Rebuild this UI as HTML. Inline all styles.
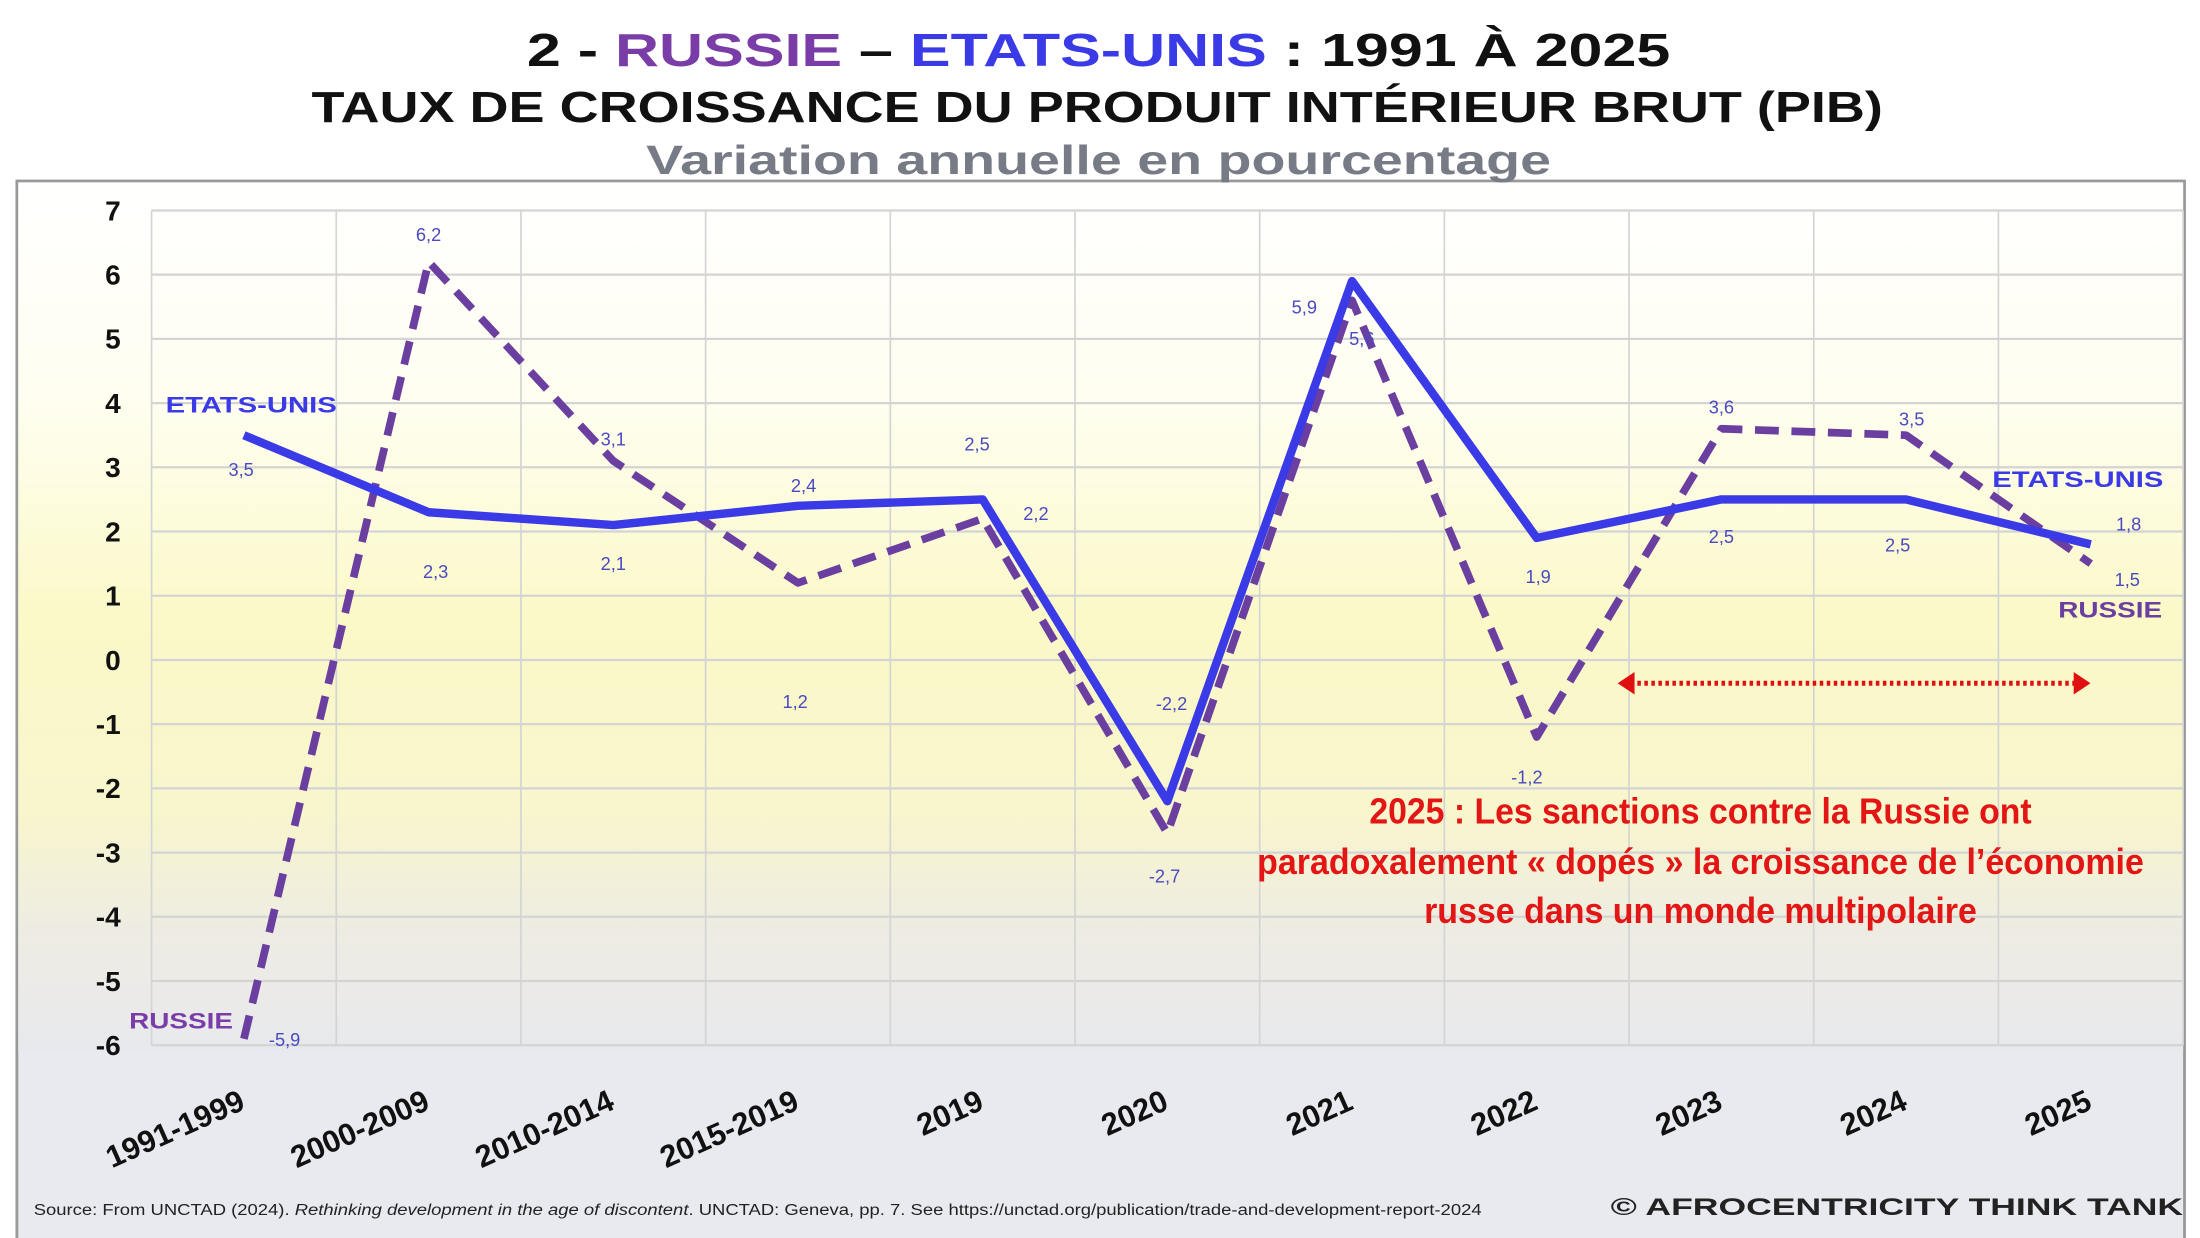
<!DOCTYPE html>
<html><head><meta charset="utf-8"><style>
html,body{margin:0;padding:0;background:#fff;}
svg{display:block;}
</style></head><body>
<svg id="chart" xmlns="http://www.w3.org/2000/svg" width="2200" height="1238" viewBox="0 0 1568 882.4" font-family="'Liberation Sans', sans-serif">
<defs>
<linearGradient id="bg" x1="0" y1="0" x2="0" y2="1">
<stop offset="0" stop-color="#ffffff"/>
<stop offset="0.25" stop-color="#fffef0"/>
<stop offset="0.5" stop-color="#fbf9c8"/>
<stop offset="0.72" stop-color="#f8f6cc"/>
<stop offset="0.86" stop-color="#eeece2"/>
<stop offset="1" stop-color="#e8e9ee"/>
</linearGradient>
</defs>
<rect x="0" y="0" width="1568" height="882.4" fill="#fff"/>
<rect x="12" y="129" width="1545" height="760" fill="#e9eaef" stroke="#999" stroke-width="2"/>
<rect x="13" y="130" width="1543" height="620" fill="url(#bg)"/>
<g>
<text x="783" y="47" text-anchor="middle" font-size="33" font-weight="bold" textLength="815" lengthAdjust="spacingAndGlyphs" fill="#111">2 - <tspan fill="#7a3da8">RUSSIE</tspan> – <tspan fill="#3a3ae6">ETATS-UNIS</tspan> : 1991 À 2025</text>
<text x="782" y="87" text-anchor="middle" font-size="31" font-weight="bold" textLength="1120" lengthAdjust="spacingAndGlyphs" fill="#111">TAUX DE CROISSANCE DU PRODUIT INTÉRIEUR BRUT (PIB)</text>
<text x="783" y="124" text-anchor="middle" font-size="29" font-weight="bold" textLength="645" lengthAdjust="spacingAndGlyphs" fill="#777b86">Variation annuelle en pourcentage</text>
</g>
<g id="grid"></g>
<g id="yticks"></g>
<g id="xticks"></g>
<g id="series"></g>
<g id="labels"></g>
<g font-weight="bold" font-size="16">
<text x="118" y="294" fill="#3a3ae6" textLength="122" lengthAdjust="spacingAndGlyphs">ETATS-UNIS</text>
<text x="1420" y="347" fill="#3a3ae6" textLength="122" lengthAdjust="spacingAndGlyphs">ETATS-UNIS</text>
<text x="1467" y="440" fill="#6a3fa0" textLength="74" lengthAdjust="spacingAndGlyphs">RUSSIE</text>
<text x="92" y="733" fill="#7a3da8" textLength="74" lengthAdjust="spacingAndGlyphs">RUSSIE</text>
</g>
<g>
<line x1="1162" y1="487" x2="1480" y2="487" stroke="#e01010" stroke-width="3.5" stroke-dasharray="2.5 2.5"/>
<polygon points="1153,487 1165,479 1165,495" fill="#e01010"/>
<polygon points="1490,487 1478,479 1478,495" fill="#e01010"/>
</g>
<g fill="#e31515" font-weight="bold" font-size="26" text-anchor="middle">
<text x="1212" y="587" textLength="472" lengthAdjust="spacingAndGlyphs">2025 : Les sanctions contre la Russie ont</text>
<text x="1212" y="623" textLength="632" lengthAdjust="spacingAndGlyphs">paradoxalement « dopés » la croissance de l’économie</text>
<text x="1212" y="658" textLength="394" lengthAdjust="spacingAndGlyphs">russe dans un monde multipolaire</text>
</g>
<text x="24" y="866" font-size="11" fill="#222" textLength="1032" lengthAdjust="spacingAndGlyphs">Source: From UNCTAD (2024). <tspan font-style="italic">Rethinking development in the age of discontent</tspan>. UNCTAD: Geneva, pp. 7. See https://unctad.org/publication/trade-and-development-report-2024</text>
<text x="1148" y="866" font-size="17" font-weight="bold" fill="#222" textLength="408" lengthAdjust="spacingAndGlyphs">© AFROCENTRICITY THINK TANK</text>
</svg>
<script>
const categories = ["1991-1999","2000-2009","2010-2014","2015-2019","2019","2020","2021","2022","2023","2024","2025"];
const usValues = [3.5,2.3,2.1,2.4,2.5,-2.2,5.9,1.9,2.5,2.5,1.8];
const russiaValues = [-5.9,6.2,3.1,1.2,2.2,-2.7,5.6,-1.2,3.6,3.5,1.5];
const yTicks = [7,6,5,4,3,2,1,0,-1,-2,-3,-4,-5,-6];
const usLabels = ["3,5","2,3","2,1","2,4","2,5","-2,2","5,9","1,9","2,5","2,5","1,8"];
const russiaLabels = ["-5,9","6,2","3,1","1,2","2,2","-2,7","5,6","-1,2","3,6","3,5","1,5"];

const NS = "http://www.w3.org/2000/svg";
const L = 108, R = 1556, T = 150, B = 745;
const colW = (R - L) / categories.length;
const x = i => L + colW * (i + 0.5);
const y = v => T + (7 - v) / 13 * (B - T);
function mk(tag, attrs, parent){const e=document.createElementNS(NS,tag);for(const k in attrs)e.setAttribute(k,attrs[k]);parent.appendChild(e);return e;}

const grid = document.getElementById('grid');
yTicks.forEach(v=>{
  const l = mk('line',{x1:L,x2:R,y1:y(v),y2:y(v),stroke:'#d4d4d4','stroke-width':1.6},grid);
  
  
});
for(let i=0;i<=categories.length;i++){
  const l = mk('line',{x1:L+colW*i,x2:L+colW*i,y1:T,y2:B,stroke:'#d4d4d4','stroke-width':1.2},grid);
  
  
}
const yg = document.getElementById('yticks');
yTicks.forEach(v=>{
  const t = mk('text',{x:86,y:y(v)+7,'text-anchor':'end','font-size':20,'font-weight':'bold',fill:'#111'},yg);
  t.textContent = String(v);
  
  
});
const xg = document.getElementById('xticks');
categories.forEach((c,i)=>{
  const cx = x(i)+2, cy = 790;
  const t = mk('text',{x:cx,y:cy,'text-anchor':'end','font-size':22,'font-weight':'bold',fill:'#111',transform:`rotate(-24 ${cx} ${cy})`},xg);
  t.textContent = c;
  
  
});
const sg = document.getElementById('series');
const ru = mk('polyline',{points:russiaValues.map((v,i)=>x(i)+','+y(v)).join(' '),fill:'none',stroke:'#6a3fa0','stroke-width':5.5,'stroke-dasharray':'17 9','stroke-linejoin':'round'},sg);


const us = mk('polyline',{points:usValues.map((v,i)=>x(i)+','+y(v)).join(' '),fill:'none',stroke:'#3a3ae6','stroke-width':6,'stroke-linejoin':'round'},sg);



const usOff = [[-2,24],[5,42],[0,27],[4,-15],[-4,-40],[3,-70],[-34,18],[1,27],[0,26],[-6,32],[27,-15]];
const ruOff = [[29,0],[0,-20],[0,-16],[-2,84],[38,-4],[-2,30],[7,27],[-7,28],[0,-16],[4,-12],[26,11]];
const lg = document.getElementById('labels');
function lab(arr,vals,off,name){
  vals.forEach((v,i)=>{
    const t = mk('text',{x:x(i)+off[i][0],y:y(v)+off[i][1]+5,'text-anchor':'middle','font-size':13,fill:'#4a4ac0'},lg);
    t.textContent = arr[i];
    
    
  });
}
lab(usLabels,usValues,usOff,'us-value-label');
lab(russiaLabels,russiaValues,ruOff,'russia-value-label');
</script>
</body></html>
